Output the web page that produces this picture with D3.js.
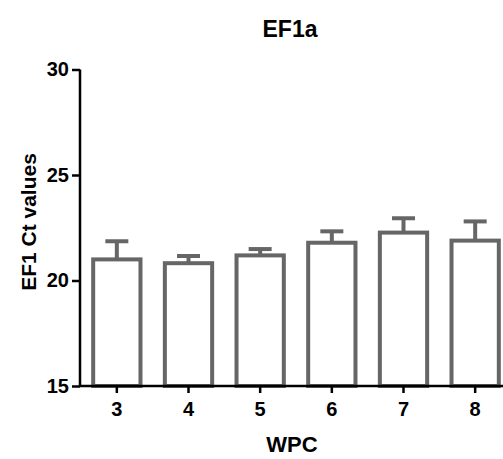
<!DOCTYPE html>
<html>
<head>
<meta charset="utf-8">
<script src="https://cdn.jsdelivr.net/npm/d3@7"></script>
<style>
  body { margin: 0; background: #fff; }
  text { font-family: Arial, "Liberation Sans", sans-serif; font-weight: bold; fill: #000; }
</style>
</head>
<body>
<svg id="svg" width="503" height="459"></svg>
<script>
const width = 503;
const height = 459;

const weeks = ["3", "4", "5", "6", "7", "8"];
const means = [21.0, 20.82, 21.19, 21.79, 22.27, 21.89];
const sems = [0.86, 0.34, 0.30, 0.54, 0.68, 0.91];
const yTicks = [15, 20, 25, 30];

const svg = d3.select("#svg");

const x = d3.scaleBand()
  .domain(weeks)
  .range([81, 511])
  .paddingInner(0.34)
  .paddingOuter(0.17);

const y = d3.scaleLinear().domain([15, 30]).range([386, 69.5]);

const barColor = "#666666";

// bars
svg.selectAll("rect.bar")
  .data(weeks)
  .enter()
  .append("rect")
  .attr("class", "bar")
  .attr("x", (d) => x(d))
  .attr("y", (d, i) => y(means[i]))
  .attr("width", x.bandwidth())
  .attr("height", (d, i) => y(15) - y(means[i]))
  .attr("fill", "#fff")
  .attr("stroke", barColor)
  .attr("stroke-width", 4);

// error bars (upper only)
const cx = (d) => x(d) + x.bandwidth() / 2;
svg.selectAll("line.err")
  .data(weeks)
  .enter()
  .append("line")
  .attr("class", "err")
  .attr("x1", cx)
  .attr("x2", cx)
  .attr("y1", (d, i) => y(means[i]))
  .attr("y2", (d, i) => y(means[i] + sems[i]))
  .attr("stroke", barColor)
  .attr("stroke-width", 4);

svg.selectAll("line.cap")
  .data(weeks)
  .enter()
  .append("line")
  .attr("class", "cap")
  .attr("x1", (d) => cx(d) - 11.5)
  .attr("x2", (d) => cx(d) + 11.5)
  .attr("y1", (d, i) => y(means[i] + sems[i]))
  .attr("y2", (d, i) => y(means[i] + sems[i]))
  .attr("stroke", barColor)
  .attr("stroke-width", 4);

// axes
const yAxis = svg.append("g")
  .attr("transform", "translate(80,0)")
  .call(d3.axisLeft(y).tickValues(yTicks).tickSize(8).tickPadding(3));

const xAxis = svg.append("g")
  .attr("transform", "translate(0,386)")
  .call(d3.axisBottom(x).tickSize(7).tickPadding(9).tickSizeOuter(0));

[yAxis, xAxis].forEach((g) => {
  g.select(".domain").attr("stroke", "#000").attr("stroke-width", 2.5);
  g.selectAll(".tick line").attr("stroke", "#000").attr("stroke-width", 2.5);
  g.selectAll(".tick text").attr("font-size", 20).attr("font-family", null).attr("fill", "#000");
});
yAxis.select(".domain").attr("d", "M0,69.5V386");
xAxis.select(".domain").attr("d", "M80,0H511");

// titles
svg.append("text")
  .attr("x", 290)
  .attr("y", 37)
  .attr("text-anchor", "middle")
  .attr("font-size", 23)
  .text("EF1a");

svg.append("text")
  .attr("x", 292)
  .attr("y", 452)
  .attr("text-anchor", "middle")
  .attr("font-size", 22)
  .text("WPC");

svg.append("text")
  .attr("transform", "translate(36,222) rotate(-90)")
  .attr("text-anchor", "middle")
  .attr("font-size", 21)
  .text("EF1 Ct values");
</script>
</body>
</html>
